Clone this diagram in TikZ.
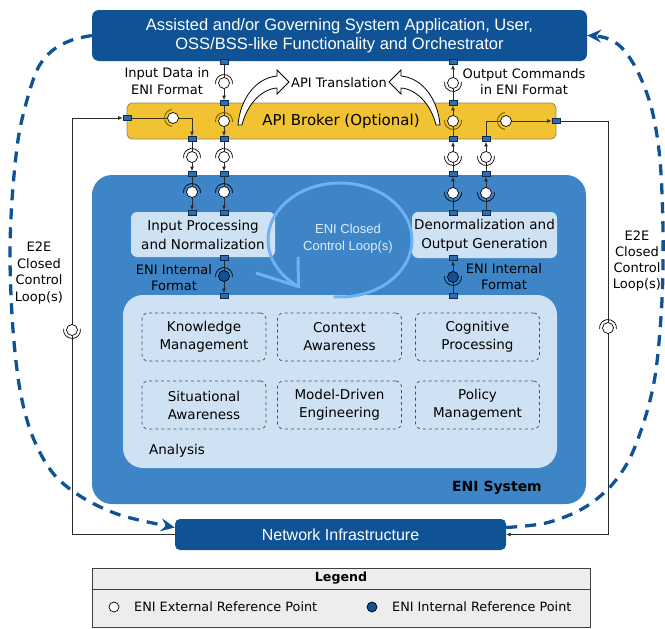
\documentclass[tikz,border=0pt]{standalone}
\usepackage{fontspec}
\setmainfont{DejaVu Sans}
\newfontfamily\arialfont{Liberation Sans}
\usetikzlibrary{arrows.meta,calc}

\definecolor{navy}{HTML}{0F5396}
\definecolor{enibg}{HTML}{3D85C6}
\definecolor{paleblue}{HTML}{CFE2F3}
\definecolor{brokerfill}{HTML}{F1C232}
\definecolor{brokeredge}{HTML}{9C8650}
\definecolor{portfill}{HTML}{2E6DB0}
\definecolor{portedge}{HTML}{0B2A4F}
\definecolor{loopblue}{HTML}{6CB2F5}
\definecolor{wire}{HTML}{2B2B2B}
\definecolor{bwire}{HTML}{3E3208}
\definecolor{cupbrown}{HTML}{7A5C00}
\definecolor{legendfill}{HTML}{EDEDED}
\definecolor{looptext}{HTML}{E3EDF8}

\newcommand\setfs[2]{\fontsize{#1}{#2}\selectfont}

\begin{document}
\begin{tikzpicture}[x=1pt,y=-1pt,
  lbl/.style={font=\setfs{13}{16.5}, align=center, text=black, inner sep=0pt},
  navybox/.style={rectangle, rounded corners=7pt, fill=navy, text=white, align=center, inner sep=0pt},
  palebox/.style={rectangle, rounded corners=6pt, fill=paleblue, align=center, inner sep=0pt, font=\setfs{13.5}{19}},
  subbox/.style={rectangle, rounded corners=6pt, draw=black!70, dashed, line width=0.7pt, fill=paleblue, align=center, inner sep=0pt, minimum width=124pt, minimum height=48pt, font=\setfs{13.5}{18}},
  wirel/.style={draw=wire, line width=0.8pt},
  bwirel/.style={draw=bwire, line width=0.8pt},
  tip/.style={-{Latex[length=4.5pt,width=4pt]}},
  port/.style={rectangle, draw=portedge, fill=portfill, minimum width=8pt, minimum height=5pt, inner sep=0pt, line width=0.6pt},
  ball/.style={circle, draw=black, fill=white, minimum size=11pt, inner sep=0pt, line width=0.7pt},
  iball/.style={ball, fill=navy},
  cup/.style={draw=black, line width=0.7pt},
  bcup/.style={draw=cupbrown, line width=0.9pt},
  e2e/.style={draw=navy, line width=3.3pt, dash pattern=on 11pt off 8pt, -{Stealth[length=14pt,width=13pt,inset=5pt]}},
  hollow/.style={draw=black, fill=white, line width=0.8pt, line join=miter},
]
\useasboundingbox (0,0) rectangle (665,629);

% ---------- main blocks ----------
\node[navybox, minimum width=495pt, minimum height=51pt, font=\arialfont\setfs{16.5}{19}] (top) at (339.5,35.5)
  {Assisted and/or Governing System Application, User,\\OSS/BSS-like Functionality and Orchestrator};

\node[rectangle, rounded corners=20pt, fill=enibg, minimum width=494pt, minimum height=329pt] (eni) at (339,339.5) {};
\node[font=\bfseries\setfs{14}{16}, inner sep=0pt] (eniname) at (497,488) {ENI System};

\node[rectangle, rounded corners=5pt, draw=brokeredge, fill=brokerfill, line width=0.8pt,
      minimum width=429pt, minimum height=36pt, font=\setfs{15}{17}] (broker) at (341.5,121) {};
\node[font=\setfs{15}{17}, inner sep=0pt] (brokertxt) at (341,121.5) {API Broker (Optional)};

\node[palebox, minimum width=144pt, minimum height=45pt] (inproc) at (203,234.5)
  {Input Processing\\and Normalization};
\node[palebox, minimum width=145pt, minimum height=46pt] (outgen) at (484.5,235)
  {Denormalization and\\Output Generation};

\node[rectangle, rounded corners=20pt, fill=paleblue, minimum width=434pt, minimum height=173pt] (analysis) at (340,381.5) {};
\node[font=\setfs{13.5}{16}, anchor=west, inner sep=0pt] (analysistxt) at (149,451) {Analysis};

\node[subbox] (km) at (204,337) {Knowledge\\Management};
\node[subbox] (ca) at (339.5,337) {Context\\Awareness};
\node[subbox] (cp) at (477.5,337) {Cognitive\\Processing};
\node[subbox] (sa) at (204,405) {Situational\\Awareness};
\node[subbox] (md) at (339.5,405) {Model-Driven\\Engineering};
\node[subbox] (pm) at (477.5,405) {Policy\\Management};

\node[navybox, rounded corners=5pt, minimum width=331pt, minimum height=31pt, font=\arialfont\setfs{16}{18}] (NI) at (340.5,534.5)
  {Network Infrastructure};

% ---------- ENI closed control loop ----------
\draw[loopblue, line width=3pt] (340,240) ++(95:72 and 57)
  arc[start angle=95, end angle=-235, x radius=72, y radius=57];
\draw[loopblue, line width=3pt, line join=miter] (298,257) -- (298.5,286.5) -- (256,273);
\node[font=\arialfont\setfs{13}{17}, text=looptext, align=center, inner sep=0pt] (looptxt) at (348,238.5)
  {ENI Closed\\Control Loop(s)};

% ---------- labels ----------
\node[lbl] (inlbl) at (167,81) {Input Data in\\ENI Format};
\node[lbl] (outlbl) at (524,81.5) {Output Commands\\in ENI Format};
\node[lbl] (apitr) at (339,83) {API Translation};
\node[lbl] (intL) at (174,277.5) {ENI Internal\\Format};
\node[lbl] (intR) at (504,276.5) {ENI Internal\\Format};
\node[lbl, font=\setfs{13}{16.7}] (e2eLtxt) at (39,273) {E2E\\Closed\\Control\\Loop(s)};
\node[lbl, font=\setfs{13}{16}] (e2eRtxt) at (637,261) {E2E\\Closed\\Control\\Loop(s)};

% ---------- API translation arrows ----------
\draw[hollow] (238,125) .. controls (240,100) and (255,78) .. (277,76) -- (277,70) -- (289,82)
  -- (277,94) -- (277,88) .. controls (262,89) and (247,104) .. (242,125) -- cycle;
\draw[hollow] (440,125) .. controls (438,100) and (423,78) .. (401,76) -- (401,70) -- (389,82)
  -- (401,94) -- (401,88) .. controls (416,89) and (431,104) .. (436,125) -- cycle;

% ---------- reference point ports ----------
\node[port] (pT1) at (224,62) {};
\node[port] (pT2) at (453,62) {};
\node[port] (pB1) at (224,103) {};
\node[port] (pB4) at (453,103) {};
\node[port] (pB2) at (192,139) {};
\node[port] (pB3) at (224,139) {};
\node[port] (pB5) at (453,139) {};
\node[port] (pB6) at (486,139) {};
\node[port] (pL) at (127,118) {};
\node[port] (pR) at (556,121) {};
\node[port] (pE1) at (192,174) {};
\node[port] (pE2) at (224,174) {};
\node[port] (pE3) at (453,174) {};
\node[port] (pE4) at (486,174) {};
\node[port] (pI1) at (192,213) {};
\node[port] (pI2) at (224,213) {};
\node[port] (pD1) at (453,213) {};
\node[port] (pD2) at (486,213) {};
\node[port] (pI3) at (224,258) {};
\node[port] (pA1) at (224,296) {};
\node[port] (pD3) at (453,258) {};
\node[port] (pA2) at (453,296) {};

% ---------- reference points (ball and socket) ----------
\node[ball] (b1) at (224,83) {};
\node[ball] (b2) at (224,121) {};
\node[ball] (bL) at (173,118) {};
\node[ball] (b3) at (192,157) {};
\node[ball] (b4) at (224,157) {};
\node[ball] (b5) at (192,192) {};
\node[ball] (b6) at (224,192) {};
\node[iball] (bi1) at (224,276) {};
\node[ball] (b7) at (453,83) {};
\node[ball] (b8) at (453,121) {};
\node[ball] (bR) at (506,121) {};
\node[ball] (b9) at (453,157) {};
\node[ball] (b10) at (486,157) {};
\node[ball] (b11) at (453,193) {};
\node[ball] (b12) at (486,193) {};
\node[iball] (bi2) at (453,277) {};
\node[ball] (eL) at (72,330) {};
\node[ball] (eR) at (608,328) {};

% ---------- input path ----------
\draw[wirel] (pT1.south) -- (b1.north);
\draw[wirel, tip] (b1.south) -- (pB1.north);
\draw[bwirel] (pB1.south) -- (b2.north);
\draw[bwirel, tip] (b2.south) -- (pB3.north);
\draw[wirel] (pB3.south) -- (b4.north);
\draw[wirel, tip] (b4.south) -- (pE2.north);
\draw[wirel] (pE2.south) -- (b6.north);
\draw[wirel, tip] (b6.south) -- (pI2.north);

\draw[bwirel] (pL.east) -- (bL.west);
\draw[bwirel, tip] (bL.east) -| (pB2.north);
\draw[wirel] (pB2.south) -- (b3.north);
\draw[wirel, tip] (b3.south) -- (pE1.north);
\draw[wirel] (pE1.south) -- (b5.north);
\draw[wirel, tip] (b5.south) -- (pI1.north);

\draw[wirel] (pI3.south) -- (bi1.north);
\draw[wirel, tip] (bi1.south) -- (pA1.north);

% ---------- output path ----------
\draw[wirel] (pA2.north) -- (bi2.south);
\draw[wirel, tip] (bi2.north) -- (pD3.south);

\draw[wirel] (pD1.north) -- (b11.south);
\draw[wirel, tip] (b11.north) -- (pE3.south);
\draw[wirel] (pE3.north) -- (b9.south);
\draw[wirel, tip] (b9.north) -- (pB5.south);
\draw[bwirel] (pB5.north) -- (b8.south);
\draw[bwirel, tip] (b8.north) -- (pB4.south);
\draw[wirel] (pB4.north) -- (b7.south);
\draw[wirel, tip] (b7.north) -- (pT2.south);

\draw[wirel] (pD2.north) -- (b12.south);
\draw[wirel, tip] (b12.north) -- (pE4.south);
\draw[wirel] (pE4.north) -- (b10.south);
\draw[wirel, tip] (b10.north) -- (pB6.south);
\draw[bwirel] (pB6.north) |- (bR.west);
\draw[bwirel, tip] (bR.east) -- (pR.west);

% ---------- E2E loop wires ----------
\draw[wirel] (pR.east) -| (eR.north);
\draw[wirel, tip] (eR.south) |- (NI.east);
\draw[wirel] (NI.west) -| (eL.south);
\draw[wirel, tip] (eL.north) |- (pL.west);

% ---------- sockets ----------
\foreach \b in {b1,b4,b6,b3,b5,eR}
  \draw[cup] ([shift={(172:8.5)}]\b.center) arc[start angle=172, end angle=368, radius=8.5];
\foreach \b in {b2}
  \draw[bcup] ([shift={(172:8.5)}]\b.center) arc[start angle=172, end angle=368, radius=8.5];
\draw[cup] ([shift={(172:8.5)}]bi1.center) arc[start angle=172, end angle=368, radius=8.5];
\foreach \b in {b7,b9,b10,b11,b12,eL,bi2}
  \draw[cup] ([shift={(-8:8.5)}]\b.center) arc[start angle=-8, end angle=188, radius=8.5];
\draw[bcup] ([shift={(-8:8.5)}]b8.center) arc[start angle=-8, end angle=188, radius=8.5];
\foreach \b in {bL,bR}
  \draw[bcup] ([shift={(98:8.5)}]\b.center) arc[start angle=98, end angle=262, radius=8.5];

% ---------- E2E closed control loops ----------
\coordinate (nlArr) at ($(NI.west)+(0,-7)$);
\coordinate (nrStart) at ($(NI.east)+(0,-7)$);
\draw[e2e] plot[smooth, tension=0.55] coordinates {(top.west) (72,40) (53,50) (38,68) (27,100) (18,140) (12,200)
  (10,260) (13,330) (20,390) (32,435) (52,472) (80,496) (120,515) (nlArr)};
\draw[e2e] plot[smooth, tension=0.55] coordinates {(nrStart) (546,523) (582,509) (610,487) (630,458) (646,415)
  (656,370) (662,300) (663,230) (660,160) (652,110) (638,72) (622,48) (606,38) (top.east)};

% ---------- legend ----------
\node[rectangle, draw=black!75, fill=legendfill, line width=0.8pt, minimum width=498pt, minimum height=59pt] (legend) at (341,597.5) {};
\draw[draw=black!75, line width=0.8pt] (legend.west |- 0,589) coordinate (ldl) -- (legend.east |- 0,589) coordinate (ldr);
\node[font=\bfseries\setfs{12.6}{15}, inner sep=0pt] (legtitle) at (341,578.5) {Legend};
\node[ball, minimum size=10pt] (lgext) at (114,607) {};
\node[font=\setfs{12.8}{15}, anchor=west, inner sep=0pt] (lgexttxt) at (134,607) {ENI External Reference Point};
\node[iball, minimum size=10pt] (lgint) at (372,607) {};
\node[font=\setfs{12.8}{15}, anchor=west, inner sep=0pt] (lginttxt) at (392,607) {ENI Internal Reference Point};
\end{tikzpicture}
\end{document}
